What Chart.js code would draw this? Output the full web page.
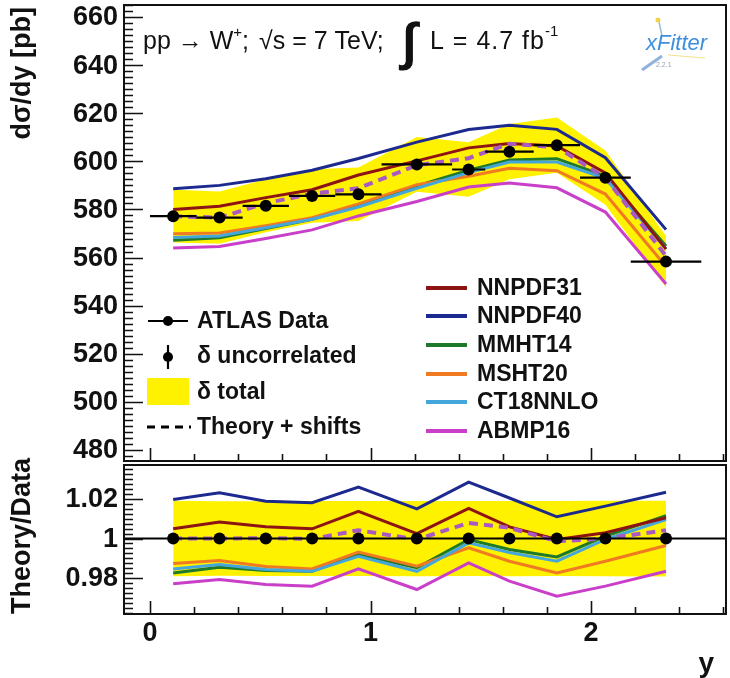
<!DOCTYPE html>
<html>
<head>
<meta charset="utf-8">
<script src="https://cdn.jsdelivr.net/npm/chart.js@4.4.1/dist/chart.umd.min.js"></script>
<style>
  html, body { margin: 0; padding: 0; background: #ffffff; }
  #wrap { position: relative; width: 730px; height: 678px; }
  #wrap canvas { position: absolute; left: 0; top: 0; }
</style>
</head>
<body>
<div id="wrap">
  <canvas id="xsec" width="730" height="678"></canvas>
  <canvas id="ratio" width="730" height="678"></canvas>
</div>
<script>
// W+ boson rapidity bins
const yCentres = [0.105, 0.315, 0.525, 0.735, 0.945, 1.21, 1.445, 1.63, 1.845, 2.065, 2.34];
const binLow   = [0.00, 0.21, 0.42, 0.63, 0.84, 1.05, 1.37, 1.52, 1.74, 1.95, 2.18];
const binHigh  = [0.21, 0.42, 0.63, 0.84, 1.05, 1.37, 1.52, 1.74, 1.95, 2.18, 2.50];

// measured cross section dσ/dy [pb] and its uncertainties
const atlasData = [577.2, 576.6, 581.5, 585.6, 586.3, 598.7, 596.6, 604.0, 606.7, 593.2, 558.3];
const uncorrErr = [1.6, 1.6, 1.6, 1.7, 1.7, 1.6, 1.9, 1.8, 1.8, 1.9, 2.0];
const totalErr  = [11.0, 10.9, 11.0, 11.1, 11.1, 11.4, 11.3, 11.5, 11.5, 11.3, 10.7];

// theory predictions dσ/dy [pb]
const nnpdf31Xs = [580.0, 581.3, 584.9, 588.2, 594.3, 600.2, 605.6, 607.4, 606.4, 595.2, 563.5];
const nnpdf40Xs = [588.6, 590.0, 592.8, 596.3, 601.2, 608.0, 613.2, 615.0, 613.3, 601.5, 571.6];
const mmht14Xs  = [567.2, 568.2, 572.1, 575.9, 581.5, 589.8, 596.3, 600.6, 601.1, 593.9, 564.8];
const msht20Xs  = [569.9, 570.2, 573.2, 576.6, 582.3, 590.3, 593.8, 597.1, 596.1, 586.4, 556.3];
const ct18Xs    = [568.3, 569.0, 572.4, 575.9, 581.0, 588.8, 595.3, 599.7, 599.7, 592.9, 563.7];
const abmp16Xs  = [564.0, 564.6, 567.9, 571.5, 577.3, 583.3, 589.3, 591.0, 589.0, 578.9, 549.0];
const shiftedXs = [577.2, 576.6, 582.6, 586.5, 588.8, 598.4, 601.3, 607.3, 605.9, 593.2, 560.6];

// theory / data ratios
const nnpdf31Ratio = [1.0049, 1.0083, 1.0059, 1.0049, 1.0138, 1.0025, 1.0152, 1.0059, 0.9995, 1.0029, 1.0105];
const nnpdf40Ratio = [1.0197, 1.0231, 1.0189, 1.0181, 1.0260, 1.0150, 1.0285, 1.0205, 1.0110, 1.0164, 1.0234];
const mmht14Ratio  = [0.9826, 0.9855, 0.9838, 0.9834, 0.9919, 0.9852, 0.9995, 0.9944, 0.9907, 1.0012, 1.0116];
const msht20Ratio  = [0.9873, 0.9889, 0.9858, 0.9846, 0.9931, 0.9860, 0.9953, 0.9885, 0.9826, 0.9885, 0.9965];
const ct18Ratio    = [0.9846, 0.9868, 0.9843, 0.9834, 0.9910, 0.9834, 0.9978, 0.9929, 0.9885, 0.9995, 1.0096];
const abmp16Ratio  = [0.9771, 0.9792, 0.9767, 0.9759, 0.9846, 0.9742, 0.9877, 0.9784, 0.9708, 0.9759, 0.9834];
const shiftedRatio = [1.0000, 1.0000, 1.0002, 0.9998, 1.0042, 0.9995, 1.0079, 1.0054, 0.9986, 1.0000, 1.0042];

// tick labels
const xTickLabels     = ['0', '1', '2'];
const xsecTickLabels  = ['480', '500', '520', '540', '560', '580', '600', '620', '640', '660'];
const ratioTickLabels = ['0.98', '1', '1.02'];

const pdfNames  = ['NNPDF31', 'NNPDF40', 'MMHT14', 'MSHT20', 'CT18NNLO', 'ABMP16'];
const pdfColors = ['#8e1414', '#1c2a8f', '#1e7a2a', '#f07a22', '#45a6dc', '#c93fc9'];
const shiftColor = '#a85ac2';
const bandColor = '#fff200';
const ink = '#111111';
const FONT = "'Liberation Sans', Arial, Helvetica, sans-serif";

const X_MIN = -0.118, X_MAX = 2.612;

const pts = arr => arr.map((v, i) => ({ x: yCentres[i], y: v }));

function lineSet(label, values, color, order, dash) {
  return {
    label, data: pts(values), borderColor: color, borderWidth: dash ? 4 : 3,
    borderDash: dash || [], pointRadius: 0, fill: false, tension: 0, order
  };
}

function bandSets(lower, upper) {
  return [
    { label: 'band+', data: pts(upper), borderWidth: 0, pointRadius: 0, tension: 0,
      backgroundColor: bandColor, fill: '+1', order: 20 },
    { label: 'band-', data: pts(lower), borderWidth: 0, pointRadius: 0, tension: 0,
      fill: false, order: 21 }
  ];
}

// ROOT-style frame with inward ticks, tick labels and axis titles
function framePlugin(cfg) {
  return {
    id: 'rootFrame_' + cfg.name,
    afterDatasetsDraw(chart) {
      if (cfg.over) cfg.over(chart);
    },
    afterDraw(chart) {
      const { ctx, chartArea: a, scales: { x, y } } = chart;
      ctx.save();
      ctx.strokeStyle = ink;
      ctx.lineWidth = 1.6;
      // y ticks
      const k0 = Math.ceil(y.min / cfg.yMinor - 1e-9), k1 = Math.floor(y.max / cfg.yMinor + 1e-9);
      ctx.beginPath();
      for (let k = k0; k <= k1; k++) {
        const py = Math.round(y.getPixelForValue(k * cfg.yMinor)) + 0.5;
        const len = (k % cfg.yPerMajor === 0) ? 19 : 9;
        ctx.moveTo(a.left, py); ctx.lineTo(a.left + len, py);
      }
      // x ticks
      const j0 = Math.ceil(x.min / 0.2 - 1e-9), j1 = Math.floor(x.max / 0.2 + 1e-9);
      for (let j = j0; j <= j1; j++) {
        const px = Math.round(x.getPixelForValue(j * 0.2)) + 0.5;
        const len = (j % 5 === 0) ? 13 : 7;
        ctx.moveTo(px, a.bottom); ctx.lineTo(px, a.bottom - len);
      }
      ctx.stroke();
      // frame
      ctx.lineWidth = 2;
      ctx.strokeRect(a.left, a.top, a.right - a.left, a.bottom - a.top);
      // y tick labels
      ctx.fillStyle = ink;
      ctx.font = 'bold 27px ' + FONT;
      ctx.textAlign = 'right';
      ctx.textBaseline = 'middle';
      cfg.yLabels.forEach(s => {
        ctx.fillText(s, a.left - 6, y.getPixelForValue(parseFloat(s)) + 1);
      });
      // x tick labels
      if (cfg.xLabels) {
        ctx.textAlign = 'center';
        ctx.textBaseline = 'top';
        cfg.xLabels.forEach(s => {
          ctx.fillText(s, x.getPixelForValue(parseFloat(s)), a.bottom + 6);
        });
        ctx.textAlign = 'right';
        ctx.textBaseline = 'alphabetic';
        ctx.font = 'bold 28px ' + FONT;
        ctx.fillText('y', a.right - 12, 672);
      }
      // y axis title
      ctx.save();
      ctx.font = 'bold 27px ' + FONT;
      ctx.translate(23, cfg.titleTop);
      ctx.rotate(-Math.PI / 2);
      ctx.textAlign = 'right';
      ctx.textBaseline = 'middle';
      ctx.fillText(cfg.title, 0, 0);
      ctx.restore();
      ctx.restore();
      if (cfg.extra) cfg.extra(chart);
    }
  };
}

function drawDataPoints(chart, values, errors, withBins) {
  const { ctx, scales: { x, y } } = chart;
  ctx.save();
  ctx.strokeStyle = '#000';
  ctx.fillStyle = '#000';
  ctx.lineWidth = 2.2;
  values.forEach((v, i) => {
    const py = y.getPixelForValue(v);
    ctx.beginPath();
    if (withBins) {
      ctx.moveTo(x.getPixelForValue(binLow[i]), py);
      ctx.lineTo(x.getPixelForValue(binHigh[i]), py);
    }
    if (errors) {
      const px = x.getPixelForValue(yCentres[i]);
      ctx.moveTo(px, y.getPixelForValue(v - errors[i]));
      ctx.lineTo(px, y.getPixelForValue(v + errors[i]));
    }
    ctx.stroke();
    ctx.beginPath();
    ctx.arc(x.getPixelForValue(yCentres[i]), py, 6, 0, Math.PI * 2);
    ctx.fill();
  });
  ctx.restore();
}

function drawLegendAndLabel(chart) {
  const ctx = chart.ctx;
  ctx.save();
  ctx.fillStyle = ink;
  // process label
  let cx = 143;
  const base = 49;
  const put = (txt, font, dy) => {
    ctx.font = font;
    ctx.fillText(txt, cx, base + (dy || 0));
    cx += ctx.measureText(txt).width;
  };
  ctx.textAlign = 'left';
  ctx.textBaseline = 'alphabetic';
  const reg = '25px ' + FONT;
  put('pp \u2192 W', reg);
  put('+', '15px ' + FONT, -12);
  put(';', reg);
  cx = 259;
  put('\u221As = 7 TeV;', reg);
  cx = 402;
  put('\u222B', 'bold 52px ' + FONT, 10);
  cx = 430;
  ctx.letterSpacing = '1px';
  put('L = 4.7 fb', reg);
  ctx.letterSpacing = '0px';
  put('-1', '15px ' + FONT, -13);

  // xFitter mark
  ctx.strokeStyle = '#9db8d6';
  ctx.lineWidth = 1.5;
  ctx.beginPath(); ctx.moveTo(659, 22); ctx.lineTo(662, 36); ctx.stroke();
  ctx.fillStyle = '#f3d24a';
  ctx.beginPath(); ctx.arc(658, 20, 2.5, 0, Math.PI * 2); ctx.fill();
  ctx.strokeStyle = '#8fb2dc';
  ctx.lineWidth = 3;
  ctx.beginPath(); ctx.moveTo(642, 70); ctx.lineTo(662, 56); ctx.stroke();
  ctx.strokeStyle = '#f5e08a';
  ctx.lineWidth = 1;
  ctx.beginPath(); ctx.moveTo(668, 55); ctx.lineTo(705, 58); ctx.stroke();
  ctx.fillStyle = '#3d8fdc';
  ctx.font = 'italic 22px ' + FONT;
  ctx.fillText('xFitter', 646, 50);
  ctx.fillStyle = '#9aa3ad';
  ctx.font = '7px ' + FONT;
  ctx.fillText('2.2.1', 656, 67);

  // legend, left block
  ctx.font = 'bold 23px ' + FONT;
  ctx.textBaseline = 'middle';
  ctx.fillStyle = ink;
  ctx.strokeStyle = '#000';
  ctx.lineWidth = 2.2;
  ctx.beginPath(); ctx.moveTo(148, 321); ctx.lineTo(188, 321); ctx.stroke();
  ctx.fillStyle = '#000';
  ctx.beginPath(); ctx.arc(168, 321, 5, 0, Math.PI * 2); ctx.fill();
  ctx.beginPath(); ctx.moveTo(168, 345); ctx.lineTo(168, 369); ctx.stroke();
  ctx.beginPath(); ctx.arc(168, 357, 5, 0, Math.PI * 2); ctx.fill();
  ctx.fillStyle = bandColor;
  ctx.fillRect(147, 378, 42, 27);
  ctx.strokeStyle = '#000';
  ctx.lineWidth = 3;
  ctx.setLineDash([8, 6]);
  ctx.beginPath(); ctx.moveTo(147, 427); ctx.lineTo(191, 427); ctx.stroke();
  ctx.setLineDash([]);
  ctx.fillStyle = ink;
  ctx.fillText('ATLAS Data', 197, 322);
  ctx.fillText('\u03B4 uncorrelated', 197, 357);
  ctx.fillText('\u03B4 total', 197, 393);
  ctx.fillText('Theory + shifts', 197, 428);

  // legend, PDF sets
  const rows = [288, 316, 345, 374, 402, 431];
  pdfNames.forEach((n, i) => {
    ctx.strokeStyle = pdfColors[i];
    ctx.lineWidth = 4;
    ctx.beginPath(); ctx.moveTo(426, rows[i]); ctx.lineTo(467, rows[i]); ctx.stroke();
    ctx.fillStyle = ink;
    ctx.fillText(n, 477, rows[i] + 1);
  });
  ctx.restore();
}

const commonOptions = (padding, yMin, yMax) => ({
  responsive: false,
  animation: false,
  devicePixelRatio: 1,
  layout: { padding },
  plugins: { legend: { display: false }, tooltip: { enabled: false } },
  scales: {
    x: { type: 'linear', min: X_MIN, max: X_MAX, display: false },
    y: { type: 'linear', min: yMin, max: yMax, display: false }
  }
});

// upper panel: cross section
const xsecSets = [
  ...bandSets(atlasData.map((d, i) => d - totalErr[i]), atlasData.map((d, i) => d + totalErr[i])),
  lineSet(pdfNames[0], nnpdf31Xs, pdfColors[0], 9),
  lineSet(pdfNames[1], nnpdf40Xs, pdfColors[1], 8),
  lineSet(pdfNames[2], mmht14Xs, pdfColors[2], 12),
  lineSet(pdfNames[3], msht20Xs, pdfColors[3], 11),
  lineSet(pdfNames[4], ct18Xs, pdfColors[4], 10),
  lineSet(pdfNames[5], abmp16Xs, pdfColors[5], 7),
  lineSet('Theory + shifts', shiftedXs, shiftColor, 3, [9, 6])
];

new Chart(document.getElementById('xsec'), {
  type: 'line',
  data: { datasets: xsecSets },
  options: commonOptions({ left: 124, top: 5, right: 4, bottom: 217 }, 475.4, 665.0),
  plugins: [framePlugin({
    name: 'xsec', yMinor: 2.5, yPerMajor: 8, yLabels: xsecTickLabels,
    title: 'd\u03C3/dy [pb]', titleTop: 7,
    over: ch => drawDataPoints(ch, atlasData, uncorrErr, true),
    extra: drawLegendAndLabel
  })]
});

// lower panel: theory / data
const ratioSets = [
  ...bandSets(atlasData.map((d, i) => 1 - totalErr[i] / d), atlasData.map((d, i) => 1 + totalErr[i] / d)),
  lineSet(pdfNames[0], nnpdf31Ratio, pdfColors[0], 9),
  lineSet(pdfNames[1], nnpdf40Ratio, pdfColors[1], 8),
  lineSet(pdfNames[2], mmht14Ratio, pdfColors[2], 12),
  lineSet(pdfNames[3], msht20Ratio, pdfColors[3], 11),
  lineSet(pdfNames[4], ct18Ratio, pdfColors[4], 10),
  lineSet(pdfNames[5], abmp16Ratio, pdfColors[5], 7),
  lineSet('Theory + shifts', shiftedRatio, shiftColor, 3, [9, 6])
];

new Chart(document.getElementById('ratio'), {
  type: 'line',
  data: { datasets: ratioSets },
  options: commonOptions({ left: 124, top: 465, right: 4, bottom: 64 }, 0.9618, 1.0372),
  plugins: [framePlugin({
    name: 'ratio', yMinor: 0.0025, yPerMajor: 8, yLabels: ratioTickLabels, xLabels: xTickLabels,
    title: 'Theory/Data', titleTop: 458,
    over: ch => {
      const { ctx, chartArea: a, scales: { y } } = ch;
      ctx.save();
      ctx.strokeStyle = '#000';
      ctx.lineWidth = 2;
      const py = y.getPixelForValue(1);
      ctx.beginPath(); ctx.moveTo(a.left, py); ctx.lineTo(a.right, py); ctx.stroke();
      ctx.restore();
      drawDataPoints(ch, atlasData.map(d => d / d), null, false);
    }
  })]
});
</script>
</body>
</html>
